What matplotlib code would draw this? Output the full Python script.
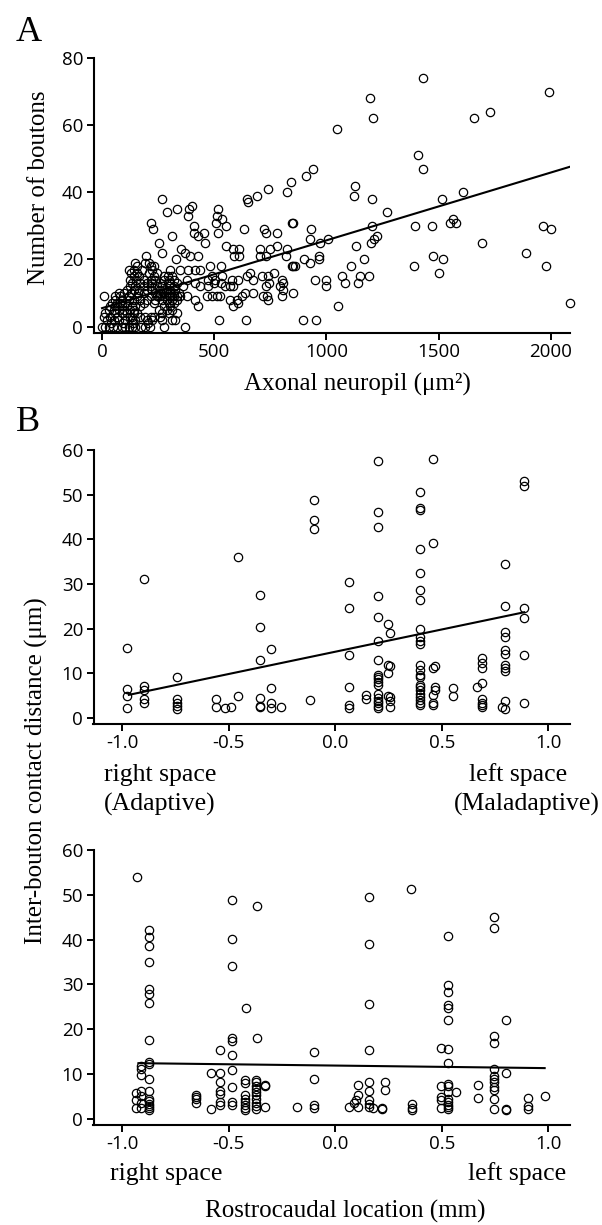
import matplotlib
matplotlib.use("Agg")
import matplotlib.pyplot as plt
from matplotlib.ticker import FormatStrFormatter
import numpy as np

plt.rcParams["axes.unicode_minus"] = False
plt.rcParams["font.family"] = ["Open Sans", "DejaVu Sans"]

SERIF = ["Liberation Serif", "DejaVu Serif"]

# ---------------- Panel A: boutons vs axonal neuropil ----------------
# scattered profiles (area in um^2, number of boutons)
area_scatter = [
    1428, 1993, 1194, 1209, 1656, 1727, 1047, 1409, 1428, 1127, 1122, 1201, 1514, 1608,
    1271, 1393, 1470, 1550, 1563, 1578, 1963, 2000, 1201, 1223, 1213, 1197, 1130, 1694,
    1887, 1978, 2083, 1166, 1109, 1473, 1518, 1501, 1391, 1068, 1081, 1139, 1148, 1191,
    1053, 1009, 1000, 1000,
    941, 910, 933, 926, 972, 902, 927, 965, 965, 951, 895, 953,
    842, 823, 739, 692, 645, 649, 518, 511, 536, 552, 508, 515, 633, 722, 731, 781, 845,
    852, 399, 389, 385, 411, 410, 456, 429, 459, 352, 370, 392, 429, 552, 582, 610, 588,
    612, 704, 731, 748, 704, 781, 823, 818, 347, 385, 414, 437, 481, 529, 489, 533, 474,
    503, 578, 607, 645, 659, 674, 711, 741, 768, 800, 808, 845, 852, 858, 570, 585, 548,
    529, 474, 499, 437, 414, 377, 362, 731, 746, 793, 808, 347, 377, 414, 429, 466, 489,
    511, 526, 570, 600, 622, 637, 674, 719, 737, 741, 585, 607, 523, 640, 851, 802,
]
bouton_scatter = [
    74, 70, 68, 62, 62, 64, 59, 51, 47, 42, 39, 38, 38, 40,
    34, 30, 30, 31, 32, 31, 30, 29, 30, 27, 26, 25, 24, 25,
    22, 18, 7, 20, 18, 21, 20, 16, 18, 15, 13, 13, 15, 15,
    6, 26, 14, 12,
    47, 45, 29, 26, 25, 20, 19, 21, 20, 14, 2, 2,
    43, 40, 41, 39, 38, 37, 35, 33, 32, 30, 31, 28, 29, 29, 28, 28, 31,
    31, 36, 35, 33, 30, 28, 28, 27, 25, 23, 22, 21, 21, 24, 23, 23, 21,
    21, 23, 21, 23, 21, 24, 23, 21, 17, 17, 17, 17, 18, 18, 15, 15, 14,
    14, 14, 14, 15, 16, 14, 15, 15, 16, 14, 13, 18, 18, 18, 12, 12, 12,
    13, 12, 13, 12, 13, 14, 12, 12, 13, 12, 11, 9, 9, 8, 6, 9, 9,
    9, 9, 8, 8, 9, 10, 10, 9, 9, 8, 6, 7, 2, 2, 10, 9,
]
# densely packed small profiles, listed row by row: (boutons, areas)
low_area_rows = [
    (0, [0, 15, 30, 48, 67, 89, 104, 119, 134, 149, 175, 193, 215, 274, 370]),
    (1, [40, 95, 140, 205]),
    (2, [22, 52, 74, 104, 134, 149, 201, 223, 268, 312, 327]),
    (3, [7, 37, 67, 126, 134, 171, 193, 216, 231, 260]),
    (4, [15, 60, 89, 112, 141, 156, 267, 297, 336]),
    (5, [30, 52, 74, 97, 126, 141, 252, 290, 312]),
    (6, [37, 60, 89, 112, 134, 149, 171, 275, 305]),
    (7, [45, 67, 82, 104, 186, 230, 297, 320]),
    (8, [60, 89, 119, 141, 171, 201, 238, 268, 290, 312, 334]),
    (9, [10, 58, 82, 119, 156, 216, 245, 260, 275, 283, 297, 305, 320, 334]),
    (10, [74, 97, 130, 160, 186, 238, 260, 275, 297, 320, 342]),
    (11, [112, 141, 164, 201, 223, 260, 283, 305, 327]),
    (12, [126, 149, 186, 216, 245, 268, 297, 320]),
    (13, [134, 171, 201, 223, 260, 305, 334]),
    (14, [126, 152, 186, 216, 238, 275, 298, 320]),
    (15, [141, 164, 231, 275, 292, 310]),
    (16, [130, 156, 208, 245]),
    (17, [119, 141, 179, 223, 302]),
    (18, [156, 216, 233]),
    (19, [148, 193, 210]),
    (20, [329]),
    (21, [196]),
    (22, [265]),
    (25, [255]),
    (27, [311]),
    (29, [229]),
    (31, [218]),
    (34, [289]),
    (35, [336]),
    (38, [267]),
]
neuropil_fit = (5.5, 0.0202)          # intercept, slope
neuropil_fit_span = (0, 2083)

# ---------------- Panel B: inter-bouton contact distance ----------------
# mediolateral location, grouped by column: (location, distances in um)
mediolateral_cols = [
    (-0.98, [15.7, 6.5, 4.8, 2.2]),
    (-0.90, [31.2, 7.1, 6.2, 4.2, 3.2]),
    (-0.743, [9.1, 4.2, 3.4, 2.6, 2.0]),
    (-0.56, [4.2, 2.4]),
    (-0.52, [2.2]),
    (-0.49, [2.5]),
    (-0.455, [36.1, 4.9]),
    (-0.356, [27.5, 20.3, 13.0, 4.5, 2.6, 2.4]),
    (-0.30, [15.4, 6.7, 3.4, 2.2]),
    (-0.254, [2.5]),
    (-0.12, [4.0]),
    (-0.10, [48.9, 44.4, 42.4]),
    (0.063, [30.4, 24.6, 14.0, 7.0, 2.8, 2.2]),
    (0.144, [5.1, 4.1]),
    (0.198, [57.5, 46.0, 42.7, 27.2, 22.5, 17.1, 13.0, 9.6, 9.1, 8.6, 8.0, 7.4,
             5.4, 4.4, 3.7, 3.2, 2.6, 2.2]),
    (0.246, [21.0, 11.9, 10.0, 4.9]),
    (0.257, [18.9, 11.5, 4.6, 3.7, 2.4]),
    (0.397, [50.5, 46.9, 46.6, 37.8, 32.5, 28.6, 26.4, 20.0, 18.1, 17.1, 16.5, 11.9,
             10.6, 9.6, 9.1, 7.4, 6.8, 6.2, 5.4, 4.6, 3.9, 3.2, 2.8]),
    (0.459, [58.0, 39.1, 11.1, 5.2, 3.4, 2.8]),
    (0.469, [11.5, 7.0, 6.2]),
    (0.552, [6.6, 4.9]),
    (0.665, [7.0]),
    (0.689, [13.3, 12.3, 11.2, 7.7, 4.2, 3.2, 2.8, 2.3]),
    (0.782, [2.5]),
    (0.797, [34.4, 25.0, 19.2, 18.1, 15.1, 14.2, 11.9, 11.2, 10.4, 3.8, 2.0]),
    (0.887, [53.1, 52.0, 24.7, 22.4, 14.0, 3.4]),
]
mediolateral_fit = (14.8, 9.97)
mediolateral_fit_span = (-0.97, 0.887)

# rostrocaudal location (mm), grouped by column
rostrocaudal_cols = [
    (-0.93, [54.0]),
    (-0.936, [5.7, 4.1, 2.5]),
    (-0.915, [11.8, 11.1, 9.8, 6.2, 5.0, 3.5, 2.3]),
    (-0.873, [42.1, 40.6, 38.6, 34.9, 29.0, 27.9, 25.8, 17.6, 12.7, 12.3, 8.8, 6.3,
              4.5, 3.9, 3.4, 2.8, 2.3, 1.9]),
    (-0.653, [5.4, 4.9, 4.3, 3.5]),
    (-0.585, [10.3, 2.1]),
    (-0.542, [15.3, 10.3, 8.2, 6.3, 5.6, 3.75, 3.0]),
    (-0.485, [48.9, 40.2, 34.1, 18.1, 17.3, 14.2, 10.8, 7.1, 3.75, 3.0]),
    (-0.422, [24.7]),
    (-0.426, [8.7, 7.9, 5.2, 4.5, 3.75, 3.0, 2.3, 1.9]),
    (-0.37, [47.5, 18.0]),
    (-0.373, [8.7, 8.2, 7.4, 6.7, 6.0, 5.2, 4.5, 3.5, 2.8, 2.1]),
    (-0.33, [7.6, 7.4, 2.6]),
    (-0.181, [2.6]),
    (-0.099, [14.9, 8.9, 3.0, 2.3]),
    (0.063, [2.6]),
    (0.086, [3.5]),
    (0.097, [4.1]),
    (0.104, [7.6, 5.4, 2.6]),
    (0.16, [49.6, 39.0, 25.6, 15.4, 8.3, 6.1, 4.1, 3.4, 2.6]),
    (0.178, [2.4]),
    (0.22, [2.3, 2.1]),
    (0.233, [8.3, 6.5]),
    (0.355, [51.3]),
    (0.362, [3.4, 2.3, 1.9]),
    (0.495, [15.9, 7.4, 4.9, 4.1, 2.4]),
    (0.53, [40.7, 29.9, 28.2, 25.3, 24.7, 22.1, 15.6, 12.5, 7.8, 7.4, 6.0, 4.5,
            3.75, 3.0, 2.6, 2.1]),
    (0.566, [6.0]),
    (0.668, [7.6, 4.6]),
    (0.744, [45.0, 42.6, 18.5, 17.0, 11.1, 9.6, 8.9, 8.2, 7.1, 6.5, 4.3, 2.1]),
    (0.803, [22.1, 10.3, 2.2, 1.9]),
    (0.905, [4.7, 2.8, 2.2]),
    (0.983, [5.1]),
]
rostrocaudal_fit = (11.87, -0.577)
rostrocaudal_fit_span = (-0.925, 0.983)

location_ticks = [-1.0, -0.5, 0.0, 0.5, 1.0]
distance_ticks = [0, 10, 20, 30, 40, 50, 60]
bouton_ticks = [0, 20, 40, 60, 80]
area_ticks = [0, 500, 1000, 1500, 2000]

# ---------------- drawing ----------------
W, H = 602, 1225
fig = plt.figure(figsize=(W / 100, H / 100), dpi=100)


def px_box(left, top, right, bottom):
    return [left / W, 1 - bottom / H, (right - left) / W, (bottom - top) / H]


def px_text(x, y, s, **kw):
    kw.setdefault("family", SERIF)
    fig.text(x / W, 1 - y / H, s, **kw)


def style_axes(ax):
    for side in ("top", "right"):
        ax.spines[side].set_visible(False)
    for side in ("left", "bottom"):
        ax.spines[side].set_linewidth(1.5)
    ax.tick_params(direction="out", length=5, width=1.4, pad=2.5,
                   labelsize=13.5, colors="black")


def rows_to_xy(groups, key_is_x):
    xs, ys = [], []
    for key, vals in groups:
        for v in vals:
            if key_is_x:
                xs.append(key); ys.append(v)
            else:
                xs.append(v); ys.append(key)
    return np.array(xs, float), np.array(ys, float)


marker = dict(linestyle="none", marker="o", markerfacecolor="none",
              markeredgecolor="black", markersize=6.0, markeredgewidth=0.9,
              clip_on=False)

# Panel A
axA = fig.add_axes(px_box(93.5, 58, 570, 333))
style_axes(axA)
dx, dy = rows_to_xy(low_area_rows, key_is_x=False)
axA.plot(np.concatenate([area_scatter, dx]), np.concatenate([bouton_scatter, dy]), **marker)
fx = np.array(neuropil_fit_span, float)
axA.plot(fx, neuropil_fit[0] + neuropil_fit[1] * fx, color="black", lw=1.5)
axA.set_xlim(-38, 2085)
axA.set_ylim(-1.9, 80)
axA.set_xticks(area_ticks)
axA.set_yticks(bouton_ticks)

# Panel B, mediolateral
axB1 = fig.add_axes(px_box(93.5, 450, 570, 724))
style_axes(axB1)
mx, my = rows_to_xy(mediolateral_cols, key_is_x=True)
axB1.plot(mx, my, **marker)
fx = np.array(mediolateral_fit_span, float)
axB1.plot(fx, mediolateral_fit[0] + mediolateral_fit[1] * fx, color="black", lw=1.5)

# Panel B, rostrocaudal
axB2 = fig.add_axes(px_box(93.5, 850, 570, 1125))
style_axes(axB2)
rx, ry = rows_to_xy(rostrocaudal_cols, key_is_x=True)
axB2.plot(rx, ry, **marker)
fx = np.array(rostrocaudal_fit_span, float)
axB2.plot(fx, rostrocaudal_fit[0] + rostrocaudal_fit[1] * fx, color="black", lw=1.5)

for ax in (axB1, axB2):
    ax.set_xlim(-1.136, 1.102)
    ax.set_ylim(-1.4, 60)
    ax.set_xticks(location_ticks)
    ax.set_yticks(distance_ticks)
    ax.xaxis.set_major_formatter(FormatStrFormatter("%.1f"))

# Labels
px_text(16, 41, "A", fontsize=26, va="baseline", ha="left")
px_text(16, 431, "B", fontsize=26, va="baseline", ha="left")

px_text(39, 188, "Number of boutons", fontsize=18, rotation=90, ha="center", va="center")
px_text(357, 391, "Axonal neuropil (\u03bcm\u00b2)", fontsize=18, ha="center", va="baseline")

px_text(36, 771, "Inter-bouton contact distance (\u03bcm)", fontsize=18, rotation=90,
        ha="center", va="center")

px_text(104, 781, "right space", fontsize=18.5, ha="left", va="baseline")
px_text(104, 811, "(Adaptive)", fontsize=18.5, ha="left", va="baseline")
px_text(567, 781, "left space", fontsize=18.5, ha="right", va="baseline")
px_text(600, 811, "(Maladaptive)", fontsize=18.5, ha="right", va="baseline")

px_text(110, 1180, "right space", fontsize=18.5, ha="left", va="baseline")
px_text(566, 1180, "left space", fontsize=18.5, ha="right", va="baseline")
px_text(345, 1218, "Rostrocaudal location (mm)", fontsize=18, ha="center", va="baseline")

fig.savefig("out.png", dpi=100, facecolor="white")
